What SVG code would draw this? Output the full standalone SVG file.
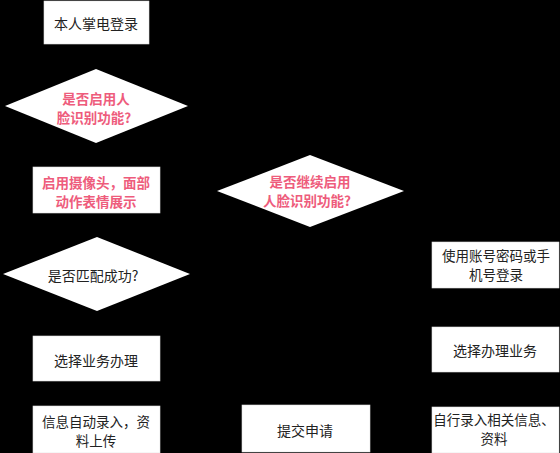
<svg xmlns="http://www.w3.org/2000/svg" width="560" height="453" viewBox="0 0 560 453">
<defs>
<marker id="arr" viewBox="0 0 10 10" refX="9" refY="5" markerWidth="6" markerHeight="6" orient="auto"><path d="M0,0 L10,5 L0,10 z" fill="#000"/></marker>
<style>
.box{fill:#fff;stroke:#e0e0e0;stroke-width:0.6}
.dia{fill:#fff}
.t{font-family:"Noto Sans CJK SC","Noto Sans",sans-serif;font-size:14px;fill:#222;text-anchor:middle;dominant-baseline:central}
.s{font-size:13.5px}
.p{fill:#EE5C7C;font-weight:bold}
.c{fill:none;stroke:#000;stroke-width:1.2;marker-end:url(#arr)}
</style>
</defs>
<rect width="560" height="453" fill="#000"/>
<g id="connectors">
<path class="c" d="M96,44 L96,69"/>
<path class="c" d="M96,143 L96,167"/>
<path class="c" d="M96,213 L96,237"/>
<path class="c" d="M96,311 L96,336"/>
<path class="c" d="M96,381 L96,406"/>
<path class="c" d="M160,429 L242,429"/>
<path class="c" d="M188,106 L311,106 L311,155"/>
<path class="c" d="M404,191 L495,191 L495,242"/>
<path class="c" d="M495,288 L495,327"/>
<path class="c" d="M495,372 L495,407"/>
<path class="c" d="M432,429 L370,429"/>
</g>
<g id="n1"><rect class="box" x="44" y="1" width="105" height="43"/><text class="t" x="96" y="23">本人掌电登录</text></g>
<g id="n2"><polygon class="dia" points="96,69 188,106 96,143 5,106"/><text class="t p s" x="96" y="98">是否启用人</text><text class="t p s" x="94" y="117">脸识别功能?</text></g>
<g id="n3"><rect class="box" x="33" y="167" width="127" height="46"/><text class="t p s" x="96" y="182">启用摄像头，面部</text><text class="t p s" x="96" y="201">动作表情展示</text></g>
<g id="n4"><polygon class="dia" points="97,237 190,274 97,311 3,274"/><text class="t" x="93" y="275">是否匹配成功?</text></g>
<g id="n5"><rect class="box" x="33" y="336" width="127" height="45"/><text class="t" x="96" y="360">选择业务办理</text></g>
<g id="n6"><rect class="box" x="33" y="406" width="127" height="47"/><text class="t s" x="96" y="421">信息自动录入，资</text><text class="t s" x="96" y="440">料上传</text></g>
<g id="n7"><polygon class="dia" points="310,155 404,191 310,227 217,191"/><text class="t p s" x="310" y="181">是否继续启用</text><text class="t p s" x="307" y="200">人脸识别功能?</text></g>
<g id="n8"><rect class="box" x="432" y="242" width="127" height="46"/><text class="t s" x="496" y="255">使用账号密码或手</text><text class="t s" x="496" y="274">机号登录</text></g>
<g id="n9"><rect class="box" x="432" y="327" width="127" height="45"/><text class="t" x="495" y="350">选择办理业务</text></g>
<g id="n10"><rect class="box" x="432" y="407" width="127" height="46"/><text class="t s" x="494" y="419">自行录入相关信息、</text><text class="t s" x="494" y="438">资料</text></g>
<g id="n11"><rect class="box" x="242" y="405" width="128" height="47"/><text class="t" x="305" y="430">提交申请</text></g>
</svg>
